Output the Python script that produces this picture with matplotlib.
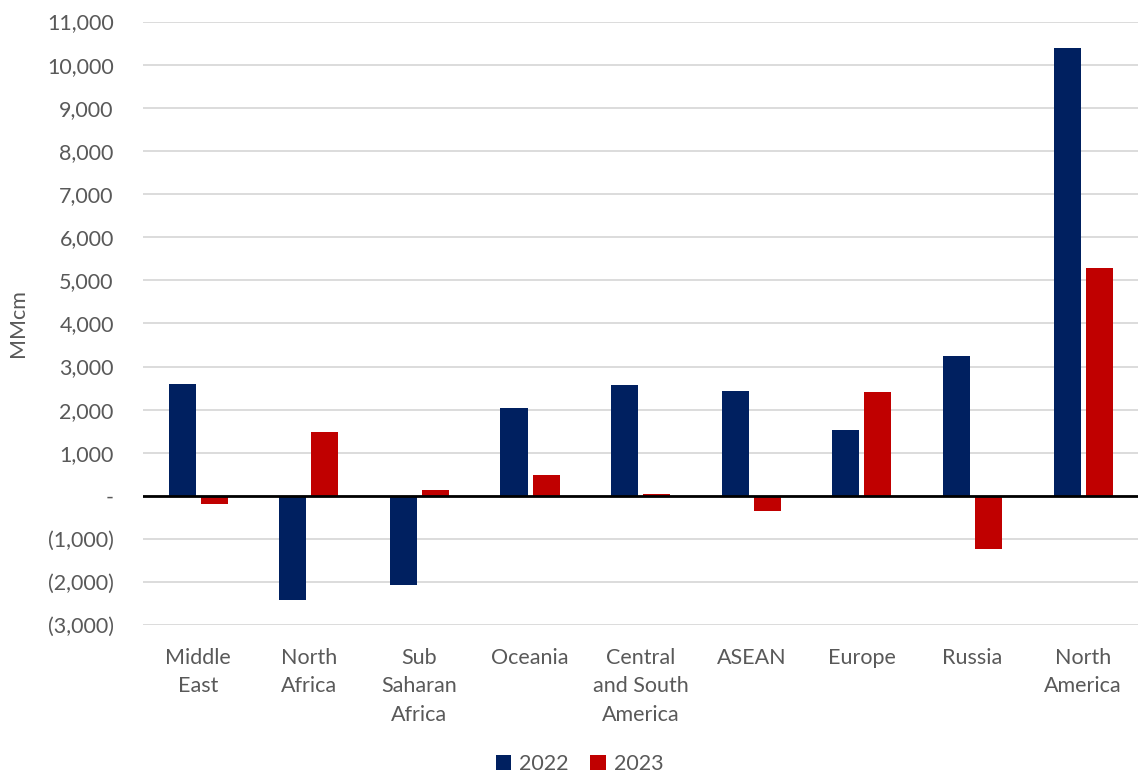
import numpy as np
import matplotlib.pyplot as plt
from matplotlib.ticker import FuncFormatter, MultipleLocator

# regions and yearly change, MMcm
regions = ['Middle\nEast', 'North\nAfrica', 'Sub\nSaharan\nAfrica', 'Oceania',
           'Central\nand South\nAmerica', 'ASEAN', 'Europe', 'Russia', 'North\nAmerica']
vals_2022 = [2600, -2420, -2060, 2030, 2575, 2440, 1520, 3250, 10380]
vals_2023 = [-180, 1490, 130, 490, 50, -340, 2410, -1230, 5290]

plt.rcParams['font.family'] = ['Lato', 'DejaVu Sans']
text_col = '#595959'

fig = plt.figure(figsize=(11.39, 7.77), dpi=100)
ax = fig.add_axes([0.1255, 0.1952, 0.874, 0.7771])

x = np.arange(len(regions))
w = 0.245
ax.bar(x - 0.145, vals_2022, w, color='#002060', label='2022', zorder=3)
ax.bar(x + 0.145, vals_2023, w, color='#C00000', label='2023', zorder=3)

ax.set_xlim(-0.5, len(regions) - 0.5)
ax.set_ylim(-3000, 11000)
ax.yaxis.set_major_locator(MultipleLocator(1000))

def fmt(v, pos):
    if abs(v) < 1e-6:
        return '-'
    if v < 0:
        return f'({abs(v):,.0f})'
    return f'{v:,.0f}'

ax.yaxis.set_major_formatter(FuncFormatter(fmt))
ax.grid(axis='y', color='#d9d9d9', linewidth=1.3, zorder=0)
ax.axhline(0, color='black', linewidth=2, zorder=4)

for s in ax.spines.values():
    s.set_visible(False)
ax.tick_params(axis='both', length=0, labelsize=15.5, colors=text_col)
ax.tick_params(axis='y', pad=21)
ax.tick_params(axis='x', pad=16)
ax.set_xticks(x)
ax.set_xticklabels(regions, linespacing=1.55)
ax.set_ylabel('MMcm', fontsize=15.5, color=text_col, labelpad=14)

fig.legend(loc='lower center', bbox_to_anchor=(0.509, -0.021), ncol=2, frameon=False,
           fontsize=15.5, labelcolor=text_col, handlelength=0.7, handleheight=0.7,
           handletextpad=0.4, columnspacing=1.0)

plt.savefig('out.png', dpi=100)
